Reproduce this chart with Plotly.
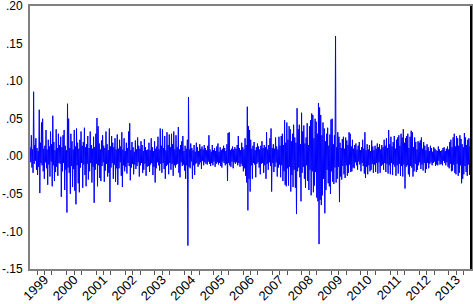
import pandas as pd
import plotly.graph_objects as go

# Weekly returns (in thousandths), one list per year
r1999 = [12,-8,28,-15,9,-22,86,-10,15,-6,24,-18,11,-25,7,-14,62,-49,18,-9,45,-12,50,-20,10,-30,14,-8,35,-16,9,-38,22,-11,13,-27,33,-7,16,-40,54,-12,19,-33,8,-21,36,-14,11,-26,30,-9]
r2000 = [15,-10,26,-54,12,-20,28,-9,35,-45,14,-18,8,-75,70,-15,50,-22,11,-50,30,-13,20,-41,9,-17,35,-46,13,-64,37,-12,18,-36,10,-48,22,-15,33,-9,14,-42,19,-11,38,-25,12,-40,16,-10,27,-31]
r2001 = [11,-20,33,-9,15,-35,10,-14,26,-62,12,-18,30,-10,51,-40,40,-12,17,-29,9,-33,21,-13,28,-8,14,-34,11,-19,33,-10,16,-27,8,-22,37,-61,13,-15,27,-9,18,-30,12,-11,24,-34,9,-16,29,-38]
r2002 = [10,-16,22,-8,13,-26,32,-41,9,-12,24,-20,7,-14,18,-23,11,-9,33,-13,44,-32,8,-15,19,-10,12,-24,6,-11,21,-17,9,-13,25,-8,14,-27,10,-12,20,-9,15,-22,7,-18,23,-10,12,-26,8,-14]
r2003 = [9,-13,18,-21,8,-11,24,-9,12,-25,7,-14,20,-35,10,-16,13,-8,26,-12,9,-19,37,-10,14,-22,36,-9,11,-17,27,-30,8,-13,32,-11,15,-24,29,-9,12,-18,30,-10,16,-26,33,-12,9,-15,28,-11]
r2004 = [12,-10,39,-22,9,-28,15,-8,20,-13,27,-11,7,-19,14,-30,10,-12,22,-119,79,-14,9,-16,17,-7,11,-30,8,-12,15,-25,6,-10,18,-9,12,-14,7,-11,16,-8,10,-17,13,-6,9,-12,15,-8,11,-10]
r2005 = [8,-11,14,-7,28,-10,9,-13,6,-9,15,-12,8,-7,11,-14,7,-10,13,-8,17,-11,6,-9,12,-13,8,-15,10,-7,14,-9,11,-12,7,-10,16,-33,31,-9,32,-12,8,-14,10,-7,13,-16,9,-8,12,-10]
r2006 = [10,-8,15,-12,27,-9,11,-14,8,-10,18,-13,12,-20,9,-16,24,-26,15,-35,66,-72,40,-30,35,-47,22,-12,10,-30,14,-9,19,-11,8,-28,12,-10,17,-8,13,-15,9,-24,14,-10,20,-9,11,-22,15,-12]
r2007 = [12,-30,32,-10,9,-18,15,-8,24,-13,37,-47,11,-9,16,-21,10,-14,25,-8,13,-27,9,-15,26,-11,14,-28,27,-12,30,-33,15,-20,48,-38,18,-40,45,-16,22,-39,40,-14,36,-47,20,-25,30,-41,42,-18]
r2008 = [25,-42,18,-77,64,-20,36,-15,42,-28,16,-60,58,-22,33,-14,41,-30,17,-42,25,-12,44,-33,15,-45,40,-18,48,-52,57,-20,55,-48,24,-39,50,-21,46,-55,30,-60,71,-117,65,-58,55,-65,28,-52,45,-30]
r2009 = [37,-76,20,-45,30,-18,38,-36,14,-40,29,-50,49,-20,50,-34,16,-37,28,-15,160,-35,12,-30,32,-14,26,-61,18,-27,11,-31,23,-13,26,-24,10,-29,25,-12,21,-26,15,-22,32,-11,30,-21,13,-20,22,-15]
r2010 = [10,-16,15,-8,17,-12,9,-18,14,-7,19,-11,8,-20,12,-9,22,-13,10,-23,32,-29,8,-14,16,-24,9,-12,15,-20,7,-18,21,-10,13,-22,8,-11,14,-21,10,-9,17,-23,12,-8,16,-22,9,-13,15,-11]
r2011 = [12,-18,22,-9,14,-21,24,-10,11,-23,35,-12,16,-24,26,-9,13,-25,19,-11,27,-14,10,-26,22,-12,25,-23,28,-10,14,-26,30,-13,25,-27,36,-11,18,-43,24,-14,27,-12,30,-24,11,-27,26,-13,34,-15]
r2012 = [32,-27,12,-20,25,-10,19,-21,9,-18,20,-12,18,-8,21,-17,25,-11,10,-19,19,-9,14,-22,8,-17,16,-9,12,-16,7,-10,14,-8,11,-12,6,-9,12,-7,10,-13,8,-11,7,-12,13,-6,9,-11,7,-10]
r2013 = [8,-12,11,-6,12,-9,7,-12,10,-8,13,-14,9,-16,19,-10,22,-20,12,-19,25,-11,30,-22,13,-24,27,-10,24,-26,14,-22,28,-12,23,-36,16,-30,12,-24,31,-13,25,-21,15,-26,22,-11,24,-25,13,-23]

years = list(range(1999, 2014))
yearly = [r1999, r2000, r2001, r2002, r2003, r2004, r2005, r2006, r2007,
          r2008, r2009, r2010, r2011, r2012, r2013]
year_labels = [str(y) for y in years]
y_ticks = [-0.15, -0.10, -0.05, 0.0, 0.05, 0.10, 0.15, 0.20]
y_labels = ["-.15", "-.10", "-.05", ".00", ".05", ".10", ".15", ".20"]

dates, vals = [], []
for y, r in zip(years, yearly):
    d = pd.date_range(start=f"{y}-01-04", periods=len(r), freq="7D")
    dates.extend(d)
    vals.extend([v / 1000.0 for v in r])

fig = go.Figure()
fig.add_trace(go.Scatter(x=dates, y=vals, mode="lines",
                         line=dict(color="#0000FF", width=1), showlegend=False))
fig.add_trace(go.Scatter(x=[], y=[], xaxis="x2", showlegend=False))

font = dict(family="Liberation Sans, Arial, sans-serif", size=12, color="black")
xfont = dict(family="Liberation Sans, Arial, sans-serif", size=13, color="black")
x_range = ["1999-01-01", "2014-01-01"]
fig.update_layout(
    width=473, height=304,
    margin=dict(l=30, r=2, t=6, b=35, autoexpand=False),
    plot_bgcolor="white", paper_bgcolor="white",
    font=font,
    xaxis=dict(range=x_range, tickmode="array", automargin=False,
               tickvals=[f"{y}-07-01" for y in years], ticktext=year_labels,
               tickangle=-45, ticks="", showgrid=False, zeroline=False,
               showline=True, linecolor="#808080", linewidth=2, mirror=True,
               tickfont=xfont, ticklabelstandoff=-4, ticklabeloverflow="allow",
               minor=dict(ticks="outside", ticklen=4, tickcolor="#555555",
                          tickvals=[f"{y}-{m:02d}-01" for y in years for m in (4, 7, 10)])),
    xaxis2=dict(range=x_range, overlaying="x", anchor="y", matches="x", automargin=False,
                tickmode="array", tickvals=[f"{y}-01-01" for y in years[1:]],
                ticks="outside", ticklen=6, tickcolor="#555555",
                showticklabels=False, showgrid=False, zeroline=False, showline=False),
    yaxis=dict(range=[-0.1502, 0.2002], tickmode="array", tickvals=y_ticks, ticktext=y_labels,
               ticks="", showgrid=False, zeroline=False, showline=True, automargin=False,
               linecolor="#808080", linewidth=2, mirror=True, tickfont=font,
               ticklabelstandoff=3, ticklabeloverflow="allow"),
    shapes=[dict(type="line", xref="paper", yref="paper", x0=1, x1=1, y0=0, y1=1,
                 line=dict(color="black", width=2))],
)
fig.write_html("out.html", config={"displayModeBar": False},
               post_script="document.body.style.margin='0px';")
